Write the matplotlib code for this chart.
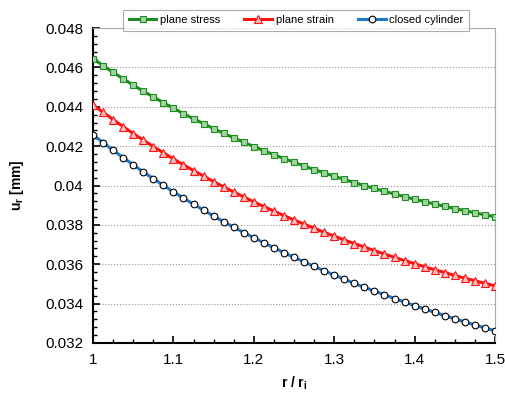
import matplotlib
matplotlib.use('Agg')
import matplotlib.pyplot as plt
import numpy as np
from matplotlib.ticker import MultipleLocator

r = np.linspace(1.0, 1.5, 41)

plane_stress = [0.04644, 0.04609, 0.04575, 0.04542, 0.04510, 0.04479, 0.04450, 0.04421,
                0.04393, 0.04365, 0.04339, 0.04314, 0.04289, 0.04265, 0.04242, 0.04220,
                0.04198, 0.04177, 0.04156, 0.04137, 0.04118, 0.04099, 0.04081, 0.04064,
                0.04047, 0.04031, 0.04015, 0.03999, 0.03985, 0.03970, 0.03957, 0.03943,
                0.03930, 0.03918, 0.03906, 0.03894, 0.03883, 0.03872, 0.03861, 0.03851,
                0.03841]
plane_strain = [0.04410, 0.04372, 0.04335, 0.04299, 0.04264, 0.04231, 0.04198, 0.04166,
                0.04135, 0.04105, 0.04076, 0.04048, 0.04020, 0.03993, 0.03967, 0.03942,
                0.03917, 0.03893, 0.03870, 0.03847, 0.03825, 0.03804, 0.03783, 0.03762,
                0.03743, 0.03723, 0.03705, 0.03687, 0.03669, 0.03652, 0.03635, 0.03619,
                0.03603, 0.03587, 0.03572, 0.03558, 0.03543, 0.03529, 0.03516, 0.03503,
                0.03490]
closed_cyl = [0.04258, 0.04218, 0.04179, 0.04142, 0.04105, 0.04069, 0.04035, 0.04001,
              0.03968, 0.03936, 0.03905, 0.03875, 0.03845, 0.03816, 0.03788, 0.03761,
              0.03735, 0.03709, 0.03684, 0.03659, 0.03635, 0.03612, 0.03589, 0.03567,
              0.03545, 0.03524, 0.03503, 0.03483, 0.03464, 0.03445, 0.03426, 0.03408,
              0.03390, 0.03373, 0.03356, 0.03339, 0.03323, 0.03307, 0.03292, 0.03277,
              0.03262]

plt.rcParams['font.family'] = ['Liberation Sans', 'DejaVu Sans']

fig = plt.figure(figsize=(5.06, 3.95), dpi=100)
ax = fig.add_axes([93/506, 1 - 343/395, 402/506, 315/395])

ax.plot(r, plane_stress, color='#1e8c1e', lw=2.2, marker='s', ms=4.8,
        mfc='#9fd49f', mec='#1e8c1e', mew=0.8, label='plane stress', zorder=3)
ax.plot(r, plane_strain, color='#ff1010', lw=2.2, marker='^', ms=5.2,
        mfc='#f7c0c0', mec='#ff1010', mew=0.8, label='plane strain', zorder=3)
ax.plot(r, closed_cyl, color='#1f78c8', lw=2.2, marker='o', ms=4.8,
        mfc='white', mec='black', mew=0.8, label='closed cylinder', zorder=3)

ax.set_xlim(1, 1.5)
ax.set_ylim(0.032, 0.048)
ax.xaxis.set_major_locator(MultipleLocator(0.1))
ax.xaxis.set_minor_locator(MultipleLocator(0.025))
ax.yaxis.set_major_locator(MultipleLocator(0.002))
ax.yaxis.set_minor_locator(MultipleLocator(0.0004))
ax.xaxis.set_major_formatter(plt.FuncFormatter(lambda v, p: '%g' % round(v, 3)))
ax.yaxis.set_major_formatter(plt.FuncFormatter(lambda v, p: '%g' % round(v, 4)))
ax.tick_params(which='both', direction='in', labelsize=11, pad=7)
ax.tick_params(which='major', length=5, width=1.2)
ax.tick_params(which='minor', length=3, width=1)
ax.yaxis.grid(True, which='major', color='#999999', ls=':', lw=0.8)

for s in ['left', 'bottom']:
    ax.spines[s].set_linewidth(1.5)
for s in ['top', 'right']:
    ax.spines[s].set_color('#aaaaaa')
    ax.spines[s].set_linewidth(0.8)

ax.set_xlabel('r / r$_\\mathregular{i}$', fontsize=10, fontweight='bold', labelpad=6)
ax.set_ylabel('u$_\\mathregular{r}$ [mm]', fontsize=10, fontweight='bold', labelpad=14)

leg = fig.legend(loc='upper center', bbox_to_anchor=(296/506, 0.99), ncol=3,
                 fontsize=8, frameon=True, fancybox=False, edgecolor='#999999',
                 handlelength=2.5, columnspacing=2.2, handletextpad=0.3,
                 borderpad=0.5)
leg.get_frame().set_linewidth(0.8)

fig.savefig('out.png', dpi=100)
